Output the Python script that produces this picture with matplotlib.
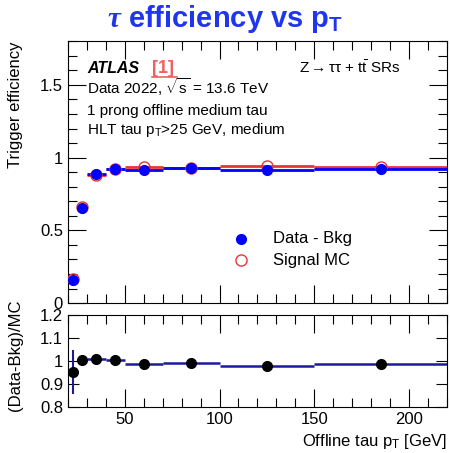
import matplotlib
matplotlib.use("Agg")
import matplotlib.pyplot as plt
import numpy as np
from matplotlib.ticker import MultipleLocator, FuncFormatter

plt.rcParams['font.family'] = ['Liberation Sans', 'DejaVu Sans']
plt.rcParams['mathtext.fontset'] = 'custom'
plt.rcParams['mathtext.rm'] = 'Liberation Sans'
plt.rcParams['mathtext.it'] = 'Liberation Serif:italic:bold'
plt.rcParams['mathtext.bf'] = 'Liberation Sans:bold'

# bins in offline tau pT [GeV]
bin_edges = [20, 25, 30, 40, 50, 70, 100, 150, 220]
pt_centers = [22.5, 27.5, 35, 45, 60, 85, 125, 185]

# efficiencies
eff_data = [0.159, 0.655, 0.890, 0.924, 0.917, 0.926, 0.917, 0.920]
eff_mc = [0.165, 0.658, 0.880, 0.925, 0.932, 0.930, 0.940, 0.935]

# ratio (Data-Bkg)/MC
ratio = [0.951, 1.004, 1.009, 1.004, 0.985, 0.992, 0.977, 0.985]
ratio_err = [0.095, 0.018, 0.008, 0.008, 0.006, 0.007, 0.008, 0.02]

blue = '#0000ff'
red = '#e8333a'
navy = '#1a1a9a'

edges = np.array(bin_edges)
xc = np.array(pt_centers)

fig = plt.figure(figsize=(4.5, 4.53), dpi=100)
ax = fig.add_axes([0.151, 0.331, 0.842, 0.578])
axr = fig.add_axes([0.151, 0.1015, 0.842, 0.203])

fmt = FuncFormatter(lambda v, p: '%g' % round(v, 2))

# top panel
ax.hlines(eff_mc, edges[:-1], edges[1:], color=red, lw=2.0, zorder=2)
ax.hlines(eff_data, edges[:-1], edges[1:], color=blue, lw=2.0, zorder=3)
ax.plot(xc, eff_mc, 'o', mfc='none', mec=red, ms=8, mew=1.0, zorder=4)
ax.plot(xc, eff_data, 'o', color=blue, ms=7, zorder=5)

ax.set_xlim(20, 220)
ax.set_ylim(0, 1.8)
ax.xaxis.set_major_locator(MultipleLocator(50))
ax.xaxis.set_minor_locator(MultipleLocator(10))
ax.yaxis.set_major_locator(MultipleLocator(0.5))
ax.yaxis.set_minor_locator(MultipleLocator(0.1))
ax.yaxis.set_major_formatter(fmt)
ax.tick_params(which='both', direction='in', top=True, right=True, labelsize=12)
ax.tick_params(which='major', length=13, width=0.8)
ax.tick_params(which='minor', length=6.5, width=0.8)
ax.tick_params(axis='x', labelbottom=False)

ax.text(0.05, 0.878, 'ATLAS', transform=ax.transAxes, fontsize=11.5,
        fontweight='bold', style='italic')
ax.text(0.222, 0.878, '[1]', transform=ax.transAxes, fontsize=13,
        fontweight='bold', color='#f06060')
ax.plot([0.222, 0.287], [0.862, 0.862], transform=ax.transAxes, color='#f06060', lw=1.2)
ax.text(0.61, 0.878, r'Z$\rightarrow\mathrm{\tau\tau}$ + t$\bar{\mathrm{t}}$ SRs',
        transform=ax.transAxes, fontsize=11)
ax.text(0.05, 0.80, r'Data 2022, $\sqrt{\mathrm{s}}$ = 13.6 TeV', transform=ax.transAxes, fontsize=11)
ax.text(0.05, 0.718, '1 prong offline medium tau', transform=ax.transAxes, fontsize=11)
ax.text(0.05, 0.645, r'HLT tau p$_\mathrm{T}$>25 GeV, medium', transform=ax.transAxes, fontsize=11)

# legend
ax.plot([0.456], [0.245], 'o', color=blue, ms=7, transform=ax.transAxes)
ax.plot([0.456], [0.163], 'o', mfc='none', mec=red, ms=8, mew=1.0, transform=ax.transAxes)
ax.text(0.54, 0.245, 'Data - Bkg', transform=ax.transAxes, fontsize=12, va='center')
ax.text(0.54, 0.163, 'Signal MC', transform=ax.transAxes, fontsize=12, va='center')

ax.set_ylabel('Trigger efficiency', fontsize=12, loc='top')
ax.yaxis.set_label_coords(-0.118, 1.0)

fig.text(0.5, 0.94, r'$\tau$ efficiency vs p$_\mathbf{T}$', ha='center', va='baseline',
         fontsize=21, fontweight='bold', color='#2035f0')

# ratio panel
axr.hlines(ratio, edges[:-1], edges[1:], color=navy, lw=1.8, zorder=2)
axr.errorbar(xc, ratio, yerr=ratio_err, fmt='none', ecolor=navy, elinewidth=1.5, zorder=3)
axr.plot(xc, ratio, 'o', color='black', ms=7, zorder=4)
axr.set_xlim(20, 220)
axr.set_ylim(0.8, 1.2)
axr.xaxis.set_major_locator(MultipleLocator(50))
axr.xaxis.set_minor_locator(MultipleLocator(10))
axr.yaxis.set_major_locator(MultipleLocator(0.1))
axr.yaxis.set_major_formatter(fmt)
axr.tick_params(which='both', direction='in', top=True, right=True, labelsize=12)
axr.tick_params(which='major', axis='x', length=13, width=0.8)
axr.tick_params(which='major', axis='y', length=8, width=0.8)
axr.tick_params(which='minor', length=6.5, width=0.8)
axr.set_ylabel('(Data-Bkg)/MC', fontsize=12)
axr.yaxis.set_label_coords(-0.118, 0.56)
axr.set_xlabel(r'Offline tau p$_\mathrm{T}$ [GeV]', fontsize=12, loc='right')

for a in (ax, axr):
    for s in a.spines.values():
        s.set_linewidth(0.8)

fig.savefig('out.png', dpi=100)
